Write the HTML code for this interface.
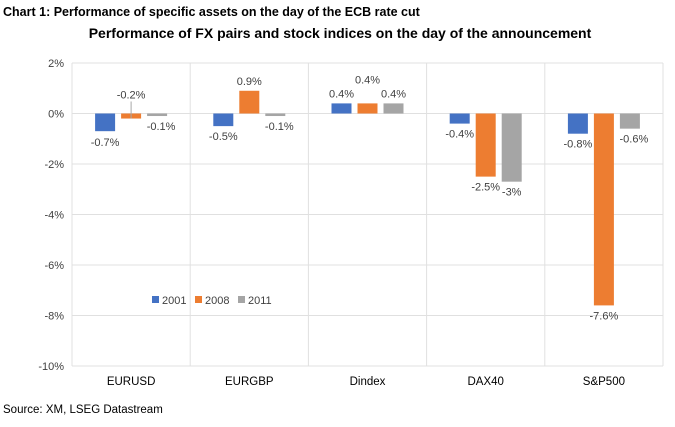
<!DOCTYPE html>
<html><head><meta charset="utf-8"><style>
body{margin:0;background:#fff;width:675px;height:422px;overflow:hidden;font-family:"Liberation Sans",Arial,sans-serif}
</style></head><body>
<svg width="675" height="422" xmlns="http://www.w3.org/2000/svg">
<text x="3" y="16" font-size="12.5" font-weight="bold" fill="#000">Chart 1: Performance of specific assets on the day of the ECB rate cut</text>
<text x="340" y="38" font-size="14" font-weight="bold" text-anchor="middle" fill="#000">Performance of FX pairs and stock indices on the day of the announcement</text>
<text x="3" y="413" font-size="11.5" fill="#000">Source: XM, LSEG Datastream</text>
<g id="plot"></g>
</svg>
<script>
const categories=["EURUSD","EURGBP","Dindex","DAX40","S&P500"];
const series2001=[-0.7,-0.5,0.4,-0.4,-0.8];
const series2008=[-0.2,0.9,0.4,-2.5,-7.6];
const series2011=[-0.1,-0.1,0.4,-2.7,-0.6];
const labels2001=["-0.7%","-0.5%","0.4%","-0.4%","-0.8%"];
const labels2008=["-0.2%","0.9%","0.4%","-2.5%","-7.6%"];
const labels2011=["-0.1%","-0.1%","0.4%","-3%","-0.6%"];
const yTicks=[2,0,-2,-4,-6,-8,-10];
const seriesNames=["2001","2008","2011"];
const colors=["#4472C4","#ED7D31","#A5A5A5"];
const NS="http://www.w3.org/2000/svg";
const g=document.getElementById("plot");
const L=72,R=663,T=63,B=366,yMax=2,yMin=-10;
const y=v=>T+(yMax-v)/(yMax-yMin)*(B-T);
const cw=(R-L)/categories.length;
const xc=i=>L+cw*(i+0.5);
function el(tag,a){const e=document.createElementNS(NS,tag);for(const k in a)e.setAttribute(k,a[k]);g.appendChild(e);return e;}
yTicks.forEach(t=>{
 const ln=el("line",{x1:L,x2:R,y1:y(t),y2:y(t),stroke:"#e0e0e0","stroke-width":1});
 
 
 const tx=el("text",{x:L-8,y:y(t)+4,"font-size":11,"text-anchor":"end",fill:"#404040"});
 tx.textContent=t+"%";
 
 
});
for(let i=0;i<=categories.length;i++){
 const ln=el("line",{x1:L+cw*i,x2:L+cw*i,y1:T,y2:B,stroke:"#e0e0e0","stroke-width":1});
 
 
}
categories.forEach((c,i)=>{
 const tx=el("text",{x:xc(i),y:B+19,"font-size":11.5,"text-anchor":"middle",fill:"#000"});
 tx.textContent=c;
 
 
});
const all=[series2001,series2008,series2011];
const labs=[labels2001,labels2008,labels2011];
const bw=20,off=[-26,0,26];
all.forEach((s,si)=>{
 s.forEach((v,i)=>{
  const cx=xc(i)+off[si];
  const y0=y(0),y1=y(v);
  const r=el("rect",{x:cx-bw/2,y:Math.min(y0,y1),width:bw,height:Math.abs(y1-y0),fill:colors[si]});
  
  
  let ly;
  if(v>=0) ly=y1-6; else ly=y1+14;
  if(si===1&&i===0){ly=y(0)-15;
   const ld=el("line",{x1:cx,x2:cx,y1:ly+3,y2:y1,stroke:"#a6a6a6","stroke-width":1});
   
   }
  if(si===1&&i===2&&v>=0) ly=y1-20;
  if(si===0&&i===0) ly=y1+15;
  const tx=el("text",{x:cx+(si===2&&v<0&&v>-1?4:0),y:ly,"font-size":11,"text-anchor":"middle",fill:"#404040"});
  tx.textContent=labs[si][i];
  
  
 });
});
const lx=[152,195,238];
seriesNames.forEach((n,i)=>{
 const r=el("rect",{x:lx[i],y:296,width:7,height:7,fill:colors[i]});
 
 
 const tx=el("text",{x:lx[i]+10,y:304,"font-size":11,fill:"#404040"});
 tx.textContent=n;
 
 
});
</script>
</body></html>
